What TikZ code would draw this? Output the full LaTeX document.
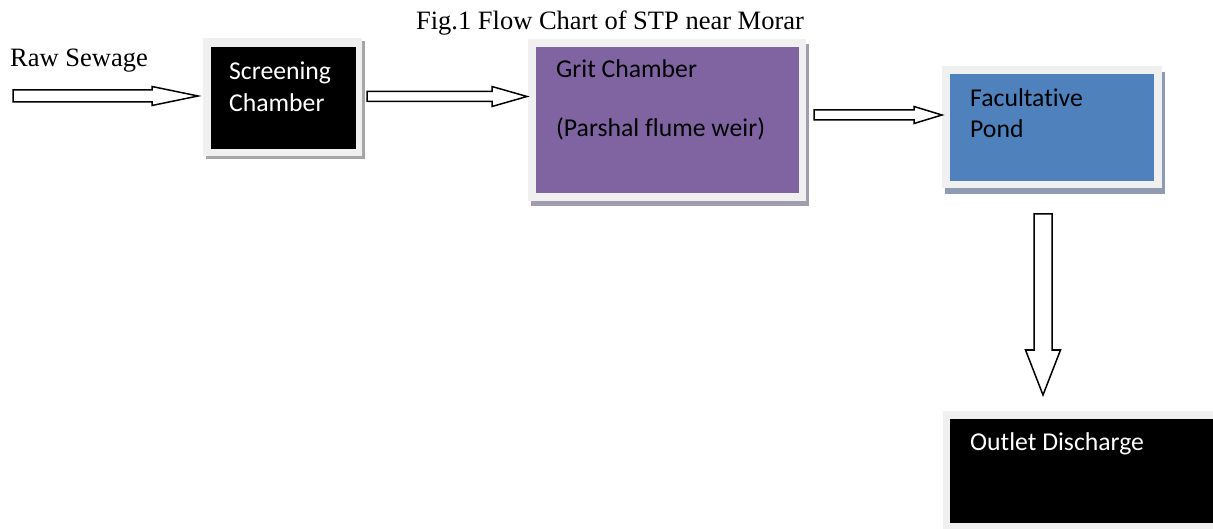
\documentclass[tikz,border=0pt]{standalone}
\usepackage{fontspec}
\setmainfont{Liberation Serif}
\newfontfamily\boxfont[Ligatures={NoCommon,NoRequired}]{Carlito}
\definecolor{framegrey}{HTML}{F0F0F0}
\definecolor{shadowgrey}{HTML}{A6A6A6}
\definecolor{gritshadow}{HTML}{A19CAE}
\definecolor{pondshadow}{HTML}{8E9BB0}
\definecolor{gritpurple}{HTML}{8064A2}
\definecolor{pondblue}{HTML}{4F81BD}
\newcommand\hblockarrow[6]{% x1 x2 y headlen shafthalf headhalf
  \draw[blockarrow] (#1,{#3-#5}) -- ({#2-#4},{#3-#5}) -- ({#2-#4},{#3-#6}) -- (#2,#3)
    -- ({#2-#4},{#3+#6}) -- ({#2-#4},{#3+#5}) -- (#1,{#3+#5}) -- cycle;}
\newcommand\vblockarrow[6]{% y1 y2 x headlen shafthalf headhalf
  \draw[blockarrow] ({#3-#5},#1) -- ({#3-#5},{#2-#4}) -- ({#3-#6},{#2-#4}) -- (#3,#2)
    -- ({#3+#6},{#2-#4}) -- ({#3+#5},{#2-#4}) -- ({#3+#5},#1) -- cycle;}
\begin{document}
\begin{tikzpicture}[x=1pt,y=-1pt,
  boxshape/.style={rectangle,inner sep=0pt,outer sep=0pt,anchor=north west,draw=none},
  boxtext/.style={inner sep=0pt,anchor=base west,font=\boxfont\fontsize{25.7}{31}\selectfont},
  serif/.style={inner sep=0pt,font=\fontsize{26.5}{32}\selectfont},
  blockarrow/.style={draw=black,fill=white,line width=1.5pt,line join=miter}]
\useasboundingbox (0,0) rectangle (1213,529);
\fill[white] (0,0) rectangle (1213,529);

% title and input label
\node[serif,anchor=base] (title) at (610,30) {Fig.1 Flow Chart of STP near Morar};
\node[serif,anchor=base west] (raw) at (10,67) {Raw Sewage};

% Screening chamber
\node[boxshape,fill=shadowgrey,minimum width=159pt,minimum height=118pt] (scrs) at (206,41) {};
\node[boxshape,fill=framegrey,minimum width=159pt,minimum height=118pt] (scrf) at (203,38) {};
\node[boxshape,fill=black,minimum width=145pt,minimum height=102pt] (scr) at (211,47) {};
\node[boxtext,text=white] (scrt1) at (229,80) {Screening};
\node[boxtext,text=white] (scrt2) at (229,112) {Chamber};

% Grit chamber
\node[boxshape,fill=gritshadow,minimum width=278pt,minimum height=162pt] (grits) at (531,44) {};
\node[boxshape,fill=framegrey,minimum width=278pt,minimum height=162pt] (gritf) at (528,39) {};
\node[boxshape,fill=gritpurple,minimum width=263pt,minimum height=146pt] (grit) at (536,47) {};
\node[boxtext] (gritt1) at (556,78) {Grit Chamber};
\node[boxtext] (gritt2) at (556,137) {(Parshal flume weir)};

% Facultative pond
\node[boxshape,fill=pondshadow,minimum width=220pt,minimum height=122pt] (ponds) at (945,72) {};
\node[boxshape,fill=framegrey,minimum width=220pt,minimum height=122pt] (pondf) at (942,66) {};
\node[boxshape,fill=pondblue,minimum width=204pt,minimum height=107pt] (pond) at (950,74) {};
\node[boxtext] (pondt1) at (970,107) {Facultative};
\node[boxtext] (pondt2) at (970,138) {Pond};

% Outlet discharge
\node[boxshape,fill=framegrey,minimum width=280pt,minimum height=125pt] (outf) at (943,411) {};
\node[boxshape,fill=black,minimum width=270pt,minimum height=104pt] (out) at (950,419) {};
\node[boxtext,text=white] (outt) at (970,450) {Outlet Discharge};

% arrows
\hblockarrow{13}{198}{96}{46}{6}{9.5}
\hblockarrow{367}{527}{96.5}{35}{5}{10}
\hblockarrow{814}{942}{115}{28}{5}{8.5}
\vblockarrow{214}{395}{1043}{45}{9}{17.5}
\end{tikzpicture}
\end{document}
